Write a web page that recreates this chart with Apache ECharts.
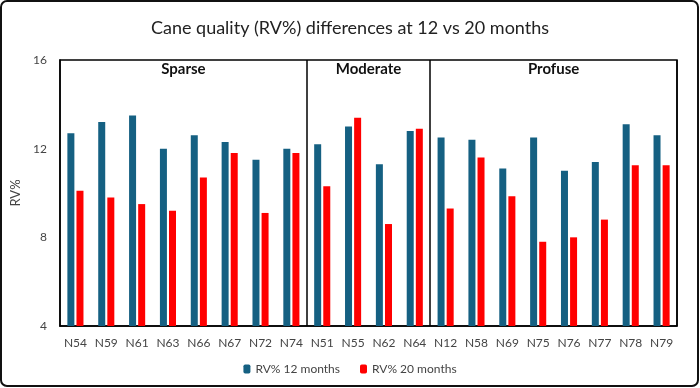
<!DOCTYPE html>
<html><head><meta charset="utf-8">
<script src="https://cdn.jsdelivr.net/npm/echarts@6/dist/echarts.min.js"></script>
<style>html,body{margin:0;padding:0;background:#fff}#c{width:700px;height:388px}</style>
</head><body><div id="c"></div>
<script>
const categories = ['N54','N59','N61','N63','N66','N67','N72','N74','N51','N55','N62','N64','N12','N58','N69','N75','N76','N77','N78','N79'];
const rv12 = [12.7,13.2,13.5,12.0,12.6,12.3,11.5,12.0,12.2,13.0,11.3,12.8,12.5,12.4,11.1,12.5,11.0,11.4,13.1,12.6];
const rv20 = [10.1,9.8,9.5,9.2,10.7,11.8,9.1,11.8,10.3,13.4,8.6,12.9,9.3,11.6,9.85,7.8,8.0,8.8,11.25,11.25];
const yTicks = [4,8,12,16];
const groups = [{name:'Sparse',from:0,to:7},{name:'Moderate',from:8,to:11},{name:'Profuse',from:12,to:19}];
const dividers = [8,12];
const FONT = 'Lato, "Noto Sans", sans-serif';

const chart = echarts.init(document.getElementById('c'));
chart.setOption({
  animation:false,
  textStyle:{fontFamily:FONT},
  title:{text:'Cane quality (RV%) differences at 12 vs 20 months',left:'center',top:14,
    textStyle:{fontFamily:FONT,fontSize:18,fontWeight:'normal',color:'#222'}},
  grid:{left:60,right:23,top:60,bottom:62,show:true,borderColor:'#000',borderWidth:1.5,backgroundColor:'transparent'},
  legend:{bottom:8,left:'center',itemWidth:7,itemHeight:9,itemGap:20,
    textStyle:{fontFamily:FONT,fontSize:12,color:'#444'},data:['RV% 12 months','RV% 20 months']},
  xAxis:{type:'category',data:categories,
    axisLine:{show:true,lineStyle:{color:'#000',width:1.5}},axisTick:{show:false},
    axisLabel:{color:'#444',fontSize:12,margin:11,interval:0},
    splitLine:{show:true,interval:(i)=>dividers.includes(i),lineStyle:{color:'#000',width:1.5}}},
  yAxis:{type:'value',min:yTicks[0],max:yTicks[yTicks.length-1],interval:4,
    name:'RV%',nameLocation:'middle',nameGap:34,nameTextStyle:{color:'#444',fontSize:13},
    axisLine:{show:true,lineStyle:{color:'#000',width:1.5}},axisTick:{show:false},
    axisLabel:{color:'#444',fontSize:12,margin:13},splitLine:{show:false}},
  series:[
    {name:'RV% 12 months',type:'bar',data:rv12,barWidth:7,barGap:'30%',itemStyle:{color:'#156082'}},
    {name:'RV% 20 months',type:'bar',data:rv20,barWidth:7,itemStyle:{color:'#ff0000'}}
  ]
});

function addGraphics(){
  const els = groups.map(g=>{
    const a = chart.convertToPixel({xAxisIndex:0},g.from);
    const b = chart.convertToPixel({xAxisIndex:0},g.to);
    return {type:'text',left:(a+b)/2,top:62,
      style:{text:g.name,x:0,y:0,textAlign:'center',fontFamily:FONT,fontSize:15,fontWeight:'bold',fill:'#111'}};
  });
  els.push({type:'rect',shape:{x:1,y:1,width:697,height:385,r:6},style:{fill:'none',stroke:'#111',lineWidth:2},z:100});
  chart.setOption({graphic:els.map(e=>{ if(e.type==='text'){ const x=e.left; delete e.left; e.x=x; e.y=e.top; delete e.top;} return e;})});
}
addGraphics();
</script></body></html>
